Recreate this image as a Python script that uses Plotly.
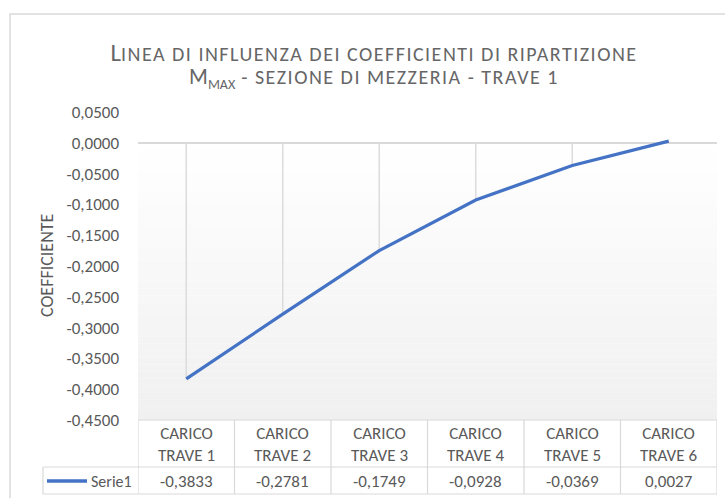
import plotly.graph_objects as go

# ---------------- data ----------------
categories = ["CARICO TRAVE 1", "CARICO TRAVE 2", "CARICO TRAVE 3",
              "CARICO TRAVE 4", "CARICO TRAVE 5", "CARICO TRAVE 6"]
values = [-0.3833, -0.2781, -0.1749, -0.0928, -0.0369, 0.0027]
series_name = "Serie1"
y_ticks = [0.05, 0.0, -0.05, -0.10, -0.15, -0.20, -0.25, -0.30, -0.35, -0.40, -0.45]
title_line1 = ("L", "INEA DI INFLUENZA DEI COEFFICIENTI DI RIPARTIZIONE")
title_line2 = ("M", "MAX", " - SEZIONE DI MEZZERIA - TRAVE 1")
y_title = "COEFFICIENTE"

# ---------------- styles ----------------
FONT = "Carlito, 'Liberation Sans Narrow', 'DejaVu Sans Condensed', 'Open Sans', sans-serif"
TXT = "#595959"
GRID = "#d9d9d9"
BLUE = "#4472C4"
W, H = 725, 498
L, R, T, B = 138, 8, 112, 78
PW, PH = W - L - R, H - T - B
FS = 17


def fmt(v):
    return f"{v:.4f}".replace(".", ",")


def px_x(x):
    return (x - L) / PW


def px_y(y):
    return (H - B - y) / PH


ymin, ymax = min(y_ticks), max(y_ticks)

fig = go.Figure()

# drop lines from the horizontal axis (at 0) to each point
dx, dy = [], []
for c, v in zip(categories, values):
    dx += [c, c, None]
    dy += [0, v, None]
fig.add_trace(go.Scatter(x=dx, y=dy, mode="lines", line=dict(color="#dcdcdc", width=1.5),
                         hoverinfo="skip", showlegend=False))

fig.add_trace(go.Scatter(x=categories, y=values, mode="lines", name=series_name,
                         line=dict(color=BLUE, width=3.2), showlegend=False))

shapes = []
# gradient background below the zero line
n = 40
for i in range(n):
    t0 = i / n
    t1 = (i + 1) / n
    g = int(round(255 - (255 - 240) * (t0 + t1) / 2))
    shapes.append(dict(type="rect", xref="paper", yref="y", x0=0, x1=1,
                       y0=ymin * t0, y1=ymin * t1,
                       fillcolor=f"rgb({g},{g},{g})", line=dict(width=0), layer="below"))

# chart outer border
shapes.append(dict(type="rect", xref="paper", yref="paper",
                   x0=px_x(10), x1=px_x(740), y0=px_y(510), y1=px_y(14),
                   line=dict(color="#d9d9d9", width=1.5), fillcolor="rgba(0,0,0,0)"))

# data table lines
row_sep = px_y(467)
tbl_bot = px_y(494)
line_style = dict(color=GRID, width=1.2)
shapes.append(dict(type="line", xref="paper", yref="paper", x0=0, x1=1, y0=0, y1=0, line=line_style))
shapes.append(dict(type="line", xref="paper", yref="paper", x0=px_x(43), x1=1, y0=row_sep, y1=row_sep, line=line_style))
shapes.append(dict(type="line", xref="paper", yref="paper", x0=px_x(43), x1=1, y0=tbl_bot, y1=tbl_bot, line=line_style))
shapes.append(dict(type="line", xref="paper", yref="paper", x0=px_x(43), x1=px_x(43), y0=row_sep, y1=tbl_bot, line=line_style))
for i in range(len(categories) + 1):
    shapes.append(dict(type="line", xref="x", yref="paper", x0=i - 0.5, x1=i - 0.5,
                       y0=0, y1=tbl_bot, line=line_style))
# legend key
shapes.append(dict(type="line", xref="paper", yref="paper", x0=px_x(47), x1=px_x(87),
                   y0=px_y(481), y1=px_y(481), line=dict(color=BLUE, width=3.5)))

annotations = []
for c, v in zip(categories, values):
    a, b = c.split(" ", 1)
    annotations.append(dict(x=c, xref="x", y=px_y(444), yref="paper", text=f"{a}<br>{b}",
                            showarrow=False, font=dict(family=FONT, size=FS, color=TXT),
                            yanchor="middle", align="center"))
    annotations.append(dict(x=c, xref="x", y=px_y(481), yref="paper", text=fmt(v),
                            showarrow=False, font=dict(family=FONT, size=FS, color=TXT),
                            yanchor="middle"))
annotations.append(dict(x=px_x(134), xref="paper", y=px_y(481), yref="paper", text=series_name,
                        showarrow=False, xanchor="right", yanchor="middle",
                        font=dict(family=FONT, size=16, color=TXT)))
annotations.append(dict(x=px_x(47), xref="paper", y=px_y(265), yref="paper", text=y_title,
                        textangle=-90, showarrow=False, xanchor="center", yanchor="middle",
                        font=dict(family=FONT, size=18, color=TXT)))

SC = "font-size:20px;letter-spacing:1.5px"
title_text = (f"<span style='font-size:25px'>{title_line1[0]}</span>"
              f"<span style='{SC}'>{title_line1[1]}</span><br>"
              f"<span style='font-size:22px'>{title_line2[0]}</span>"
              f"<span style='font-size:20px'><sub>{title_line2[1]}</sub></span>"
              f"<span style='{SC}'>{title_line2[2]}</span>")

fig.update_layout(
    width=W, height=H,
    margin=dict(l=L, r=R, t=T, b=B, pad=0),
    paper_bgcolor="white", plot_bgcolor="rgba(0,0,0,0)",
    separators=",.",
    title=dict(text=title_text, x=374 / W, xanchor="center", xref="container",
               y=1 - 61 / H, yanchor="middle", yref="container",
               font=dict(family=FONT, size=18, color="#666666")),
    xaxis=dict(type="category", range=[-0.5, len(categories) - 0.5], showticklabels=False,
               showgrid=False, zeroline=False, showline=False, ticks=""),
    yaxis=dict(range=[ymin, ymax], tickvals=y_ticks, ticktext=[fmt(v) for v in y_ticks],
               showgrid=False, zeroline=True, zerolinecolor=GRID, zerolinewidth=1.5,
               showline=False, ticks="", ticklabelstandoff=18,
               tickfont=dict(family=FONT, size=FS, color=TXT)),
    shapes=shapes, annotations=annotations, showlegend=False,
)

fig.write_html("out.html", config={"displayModeBar": False},
               post_script="document.body.style.margin='0px';")
